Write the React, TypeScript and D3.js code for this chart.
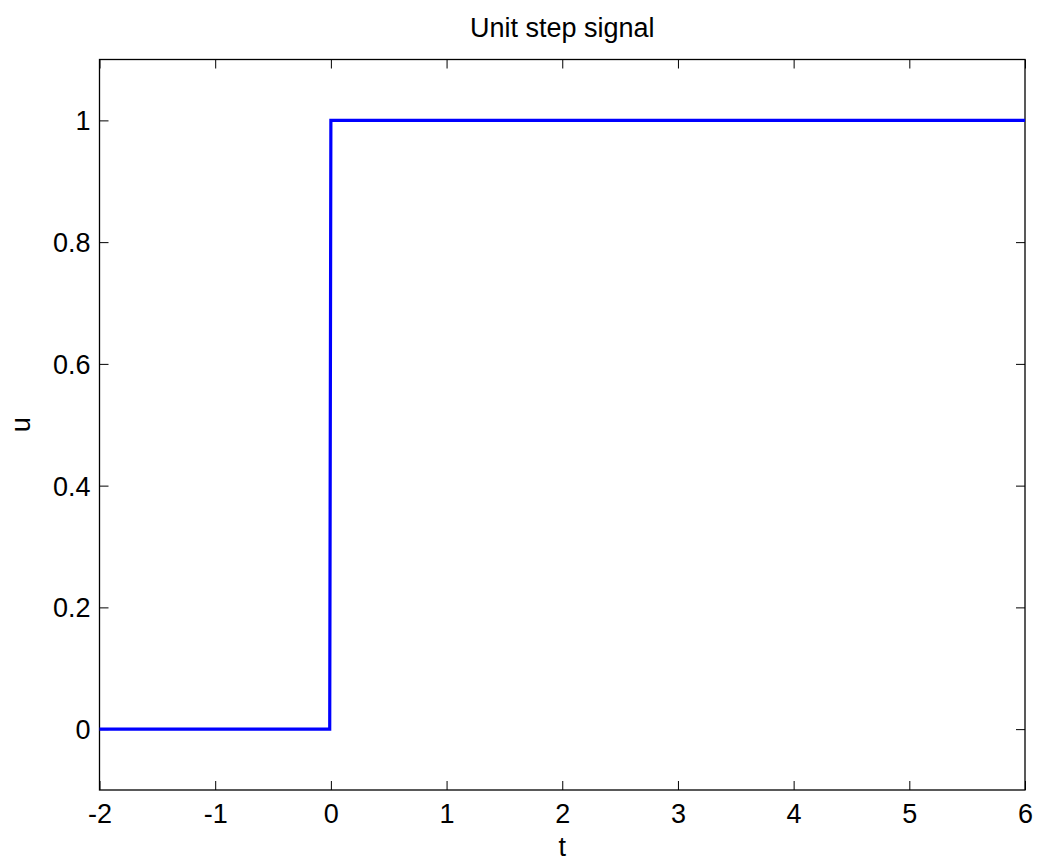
import React, { useRef, useEffect } from "react";
import * as d3 from "d3";

// step signal samples (t, u)
const tValues = [-2, -0.01, 0, 6];
const uValues = [0, 0, 1, 1];

const xTicks = [-2, -1, 0, 1, 2, 3, 4, 5, 6];
const yTicks = [0, 0.2, 0.4, 0.6, 0.8, 1];

const titleText = "Unit step signal";
const xLabel = "t";
const yLabel = "u";

const App = () => {
  const d3Container = useRef<SVGSVGElement | null>(null);
  const width = 1039;
  const height = 861;

  useEffect(() => {
    if (!d3Container.current) return;
    const svg = d3.select(d3Container.current);
    svg.selectAll("*").remove();

    const margins = { left: 99.5, right: 14, top: 59.5, bottom: 71 };
    const w = width - margins.left - margins.right;
    const h = height - margins.top - margins.bottom;
    const font = "'Liberation Sans', Arial, Helvetica, sans-serif";
    const fontSize = "27px";
    const tickLen = 9;

    svg.append("rect").attr("width", width).attr("height", height).attr("fill", "#fff");

    const g = svg
      .append("g")
      .attr("transform", "translate(" + margins.left + "," + margins.top + ")");

    const x = d3.scaleLinear().domain([-2, 6]).range([0, w]);
    const y = d3.scaleLinear().domain([-0.1, 1.1]).range([h, 0]);

    // axes, ticks pointing inward on all four sides
    const bottom = g
      .append("g")
      .attr("transform", "translate(0," + h + ")")
      .call(d3.axisBottom(x).tickValues(xTicks).tickSize(-tickLen).tickFormat((d) => String(d)));
    const top = g.append("g").call(d3.axisTop(x).tickValues(xTicks).tickSize(-tickLen).tickFormat(() => ""));
    const left = g.append("g").call(
      d3.axisLeft(y).tickValues(yTicks).tickSize(-tickLen).tickPadding(9).tickFormat((d) => String(d))
    );
    const right = g
      .append("g")
      .attr("transform", "translate(" + w + ",0)")
      .call(d3.axisRight(y).tickValues(yTicks).tickSize(-tickLen).tickFormat(() => ""));

    [bottom, top, left, right].forEach((a) => {
      a.select(".domain").remove();
      a.selectAll("line").attr("stroke", "#000").attr("stroke-width", 1);
      a.selectAll("text")
        .attr("fill", "#000")
        .style("font-family", font)
        .style("font-size", fontSize);
    });
    bottom.selectAll("text").attr("dy", null).attr("y", 33);
    left.selectAll("text").attr("dy", "0.35em");

    // plot box
    g.append("rect")
      .attr("width", w)
      .attr("height", h)
      .attr("fill", "none")
      .attr("stroke", "#000")
      .attr("stroke-width", 1.3);

    // the signal
    const pts: [number, number][] = tValues.map((t, i) => [t, uValues[i]]);
    const line = d3
      .line<[number, number]>()
      .x((d) => x(d[0]))
      .y((d) => y(d[1]));
    g.append("path")
      .datum(pts)
      .attr("d", line)
      .attr("fill", "none")
      .attr("stroke", "#0000ff")
      .attr("stroke-width", 3.2)
      .attr("stroke-linejoin", "miter");

    // title and labels
    svg.append("text")
      .attr("x", margins.left + w / 2)
      .attr("y", 37)
      .attr("text-anchor", "middle")
      .style("font-family", font)
      .style("font-size", fontSize)
      .text(titleText);
    svg.append("text")
      .attr("x", margins.left + w / 2)
      .attr("y", 856)
      .attr("text-anchor", "middle")
      .style("font-family", font)
      .style("font-size", fontSize)
      .text(xLabel);
    svg.append("text")
      .attr("transform", "translate(30," + (margins.top + h / 2) + ") rotate(-90)")
      .attr("text-anchor", "middle")
      .style("font-family", font)
      .style("font-size", fontSize)
      .text(yLabel);
  }, []);

  return (
    <svg
      ref={d3Container}
      width={width}
      height={height}
      style={{ position: "absolute", left: 0, top: 0, display: "block" }}
    />
  );
};

export default App;
